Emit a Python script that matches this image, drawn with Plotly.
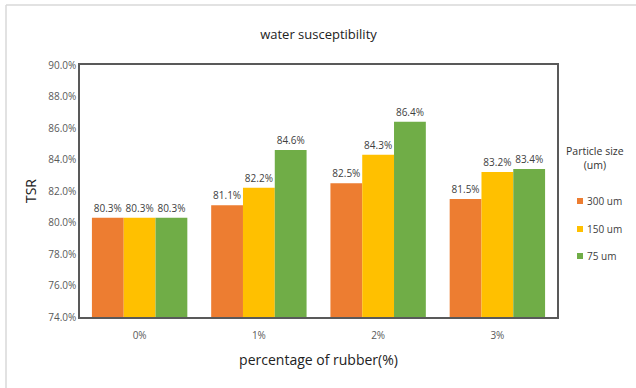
import plotly.graph_objects as go

categories = ["0%", "1%", "2%", "3%"]
series_names = ["300 um", "150 um", "75 um"]
tsr_300 = [0.803, 0.811, 0.825, 0.815]
tsr_150 = [0.803, 0.822, 0.843, 0.832]
tsr_75 = [0.803, 0.846, 0.864, 0.834]
colors = ["#ED7D31", "#FFC000", "#70AD47"]

fig = go.Figure()
for i, (name, vals) in enumerate(zip(series_names, [tsr_300, tsr_150, tsr_75])):
    fig.add_trace(go.Bar(
        x=categories, y=[v - 0.74 for v in vals], base=0.74,
        name=name,
        marker=dict(color=colors[i], line=dict(width=0)),
        text=[f"{v*100:.1f}%" for v in vals],
        textposition="outside", cliponaxis=False,
        textfont=dict(family="Open Sans, sans-serif", size=10, color="#404040"),
        hoverinfo="skip",
    ))

# Plot area geometry (pixels) used to place the side key in paper coordinates
W, H = 636, 388
L, R, T, B = 80, 79, 65, 71
pw, ph = W - L - R, H - T - B


def px(x):
    return (x - L) / pw


def py(y):
    return 1 - (y - T) / ph


annotations = [dict(text="Particle size<br>(um)", x=px(595), y=py(142), xref="paper", yref="paper",
                    xanchor="center", yanchor="top", showarrow=False,
                    font=dict(size=10.5, color="#333333"))]
shapes = [
    dict(type="line", xref="paper", yref="paper", x0=px(6), x1=px(640), y0=py(5), y1=py(5),
         line=dict(color="#D9D9D9", width=1.5)),
    dict(type="line", xref="paper", yref="paper", x0=px(6), x1=px(6), y0=py(5), y1=py(392),
         line=dict(color="#D9D9D9", width=1.5)),
]
key_rows = [201, 229, 256]
for name, color, yc in zip(series_names, colors, key_rows):
    shapes.append(dict(type="rect", xref="paper", yref="paper",
                       x0=px(577), x1=px(583), y0=py(yc + 3), y1=py(yc - 3),
                       fillcolor=color, line=dict(width=0)))
    annotations.append(dict(text=name, x=px(585), y=py(yc), xref="paper", yref="paper",
                            xanchor="left", yanchor="middle", showarrow=False,
                            font=dict(size=10, color="#404040")))

fig.update_layout(
    width=W, height=H,
    margin=dict(l=L, r=R, t=T, b=B),
    paper_bgcolor="white", plot_bgcolor="white",
    barmode="group", bargap=0.2, bargroupgap=0,
    font=dict(family="Open Sans, sans-serif", color="#404040"),
    title=dict(text="water susceptibility", x=0.5, xref="paper", y=0.91, yref="container",
               yanchor="middle", font=dict(size=13, color="#222222")),
    showlegend=False,
    xaxis=dict(showline=True, mirror=True, linecolor="#595959", linewidth=1.5,
               ticks="", ticklabelstandoff=8, tickfont=dict(size=10, color="#595959"),
               title=dict(text="percentage of rubber(%)", font=dict(size=14, color="#222222"), standoff=14)),
    yaxis=dict(range=[0.74, 0.90], dtick=0.02, tickformat=".1%",
               showgrid=False, zeroline=False,
               showline=True, mirror=True, linecolor="#595959", linewidth=1.5,
               ticks="", tickfont=dict(size=10, color="#595959"),
               title=dict(text="TSR", font=dict(size=14, color="#222222"), standoff=8)),
    annotations=annotations,
    shapes=shapes,
)

fig.write_html("out.html")
